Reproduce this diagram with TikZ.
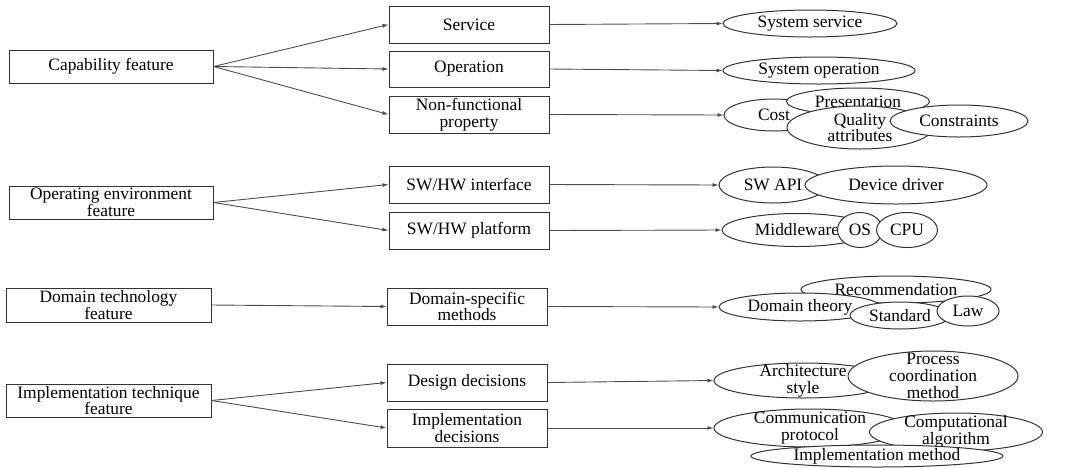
\documentclass[tikz,border=0pt]{standalone}
\usepackage{fontspec}
\setmainfont{Liberation Serif}
\usetikzlibrary{shapes.geometric,arrows.meta}

\tikzset{
  featbox/.style={draw=black!80, line width=1pt, rectangle, align=center,
    inner sep=0pt, font=\fontsize{17.4}{16.7}\selectfont},
  elnode/.style={draw=black!80, line width=1pt, ellipse, fill=white, align=center,
    inner xsep=0pt, inner ysep=-9pt, font=\fontsize{17.4}{16.7}\selectfont},
  link/.style={draw=black!70, line width=0.9pt, -{Latex[length=6pt,width=4pt]}}
}

\begin{document}
\begin{tikzpicture}[x=1pt,y=-1pt]
  \useasboundingbox (0,0) rectangle (1069,467);

  % Feature categories
  \node[featbox, minimum width=204pt, minimum height=33pt] (cap) at (111,66.5) {Capability feature};
  \node[featbox, minimum width=204pt, minimum height=33pt] (env) at (111,202.5) {Operating environment\\feature};
  \node[featbox, minimum width=205pt, minimum height=34pt] (dom) at (108.5,305) {Domain technology\\feature};
  \node[featbox, minimum width=205pt, minimum height=33pt] (imp) at (108.5,400.5) {Implementation technique\\feature};

  % Sub categories
  \node[featbox, minimum width=160pt, minimum height=37pt] (serv) at (469,24.5) {Service};
  \node[featbox, minimum width=160pt, minimum height=36pt] (oper) at (469,69) {Operation};
  \node[featbox, minimum width=160pt, minimum height=37pt] (nfp) at (469,114.5) {Non-functional\\property};
  \node[featbox, minimum width=160pt, minimum height=37pt] (swif) at (469,184.5) {SW/HW interface};
  \node[featbox, minimum width=160pt, minimum height=37pt] (swpf) at (469,230.5) {SW/HW platform};
  \node[featbox, minimum width=160pt, minimum height=37pt] (dsm) at (467,306.5) {Domain-specific\\methods};
  \node[featbox, minimum width=160pt, minimum height=37pt] (desd) at (467,382.5) {Design decisions};
  \node[featbox, minimum width=160pt, minimum height=38pt] (impd) at (467,428) {Implementation\\decisions};

  % Examples
  \node[elnode, minimum width=174pt, minimum height=27pt] (syss) at (810,23.5) {System service};
  \node[elnode, minimum width=192pt, minimum height=27pt] (syso) at (819,70.5) {System operation};

  \node[elnode, minimum width=100pt, minimum height=32pt] (cost) at (774,115) {Cost};
  \node[elnode, minimum width=143pt, minimum height=27pt] (pres) at (858,101.5) {Presentation};
  \node[elnode, minimum width=146pt, minimum height=43pt] (qual) at (860,127.5) {Quality\\attributes};
  \node[elnode, minimum width=138pt, minimum height=32pt] (cons) at (959,121) {Constraints};

  \node[elnode, minimum width=108pt, minimum height=36pt] (api) at (773,185) {SW API};
  \node[elnode, minimum width=182pt, minimum height=38pt] (drv) at (896,185) {Device driver};

  \node[elnode, minimum width=150pt, minimum height=33pt] (mid) at (797,230) {Middleware};
  \node[elnode, minimum width=45pt, minimum height=35pt] (os) at (860,230) {OS};
  \node[elnode, minimum width=61pt, minimum height=35pt] (cpu) at (907,230) {CPU};

  \node[elnode, minimum width=190pt, minimum height=27pt] (rec) at (896,289.5) {Recommendation};
  \node[elnode, minimum width=162pt, minimum height=28pt] (dth) at (800,307) {Domain theory};
  \node[elnode, minimum width=100pt, minimum height=27pt] (std) at (900,315.5) {Standard};
  \node[elnode, minimum width=62pt, minimum height=30pt] (law) at (968,311) {Law};

  \node[elnode, minimum width=178pt, minimum height=35pt] (arch) at (803,380.5) {Architecture\\style};
  \node[elnode, minimum width=170pt, minimum height=50pt] (proc) at (933,376) {Process\\coordination\\method};

  \node[elnode, minimum width=192pt, minimum height=38pt] (comm) at (810,428) {Communication\\protocol};
  \node[elnode, minimum width=173pt, minimum height=38pt] (comp) at (956,432) {Computational\\algorithm};
  \node[elnode, minimum width=252pt, minimum height=22pt] (impm) at (877,456) {Implementation method};

  % Category -> sub category
  \draw[link] (cap.east) -- (serv.west);
  \draw[link] (cap.east) -- (oper.west);
  \draw[link] (cap.east) -- (nfp.west);
  \draw[link] (env.east) -- (swif.west);
  \draw[link] (env.east) -- (swpf.west);
  \draw[link] (dom.east) -- (dsm.west);
  \draw[link] (imp.east) -- (desd.west);
  \draw[link] (imp.east) -- (impd.west);

  % Sub category -> examples
  \draw[link] (serv.east) -- (syss.west);
  \draw[link] (oper.east) -- (syso.west);
  \draw[link] (nfp.east) -- (cost.west);
  \draw[link] (swif.east) -- (api.west);
  \draw[link] (swpf.east) -- (mid.west);
  \draw[link] (dsm.east) -- (dth.west);
  \draw[link] (desd.east) -- (arch.west);
  \draw[link] (impd.east) -- (comm.west);
\end{tikzpicture}
\end{document}
